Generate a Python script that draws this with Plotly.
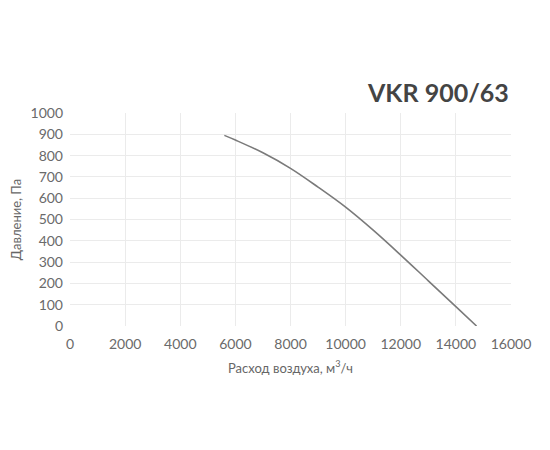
import plotly.graph_objects as go

flow = [5600, 6000, 7000, 8000, 9000, 10000, 11000, 12000, 13000, 14000, 14750]
pressure = [895, 873, 813, 740, 652, 558, 450, 333, 212, 91, 0]

x_ticks = [0, 2000, 4000, 6000, 8000, 10000, 12000, 14000, 16000]
y_ticks = [0, 100, 200, 300, 400, 500, 600, 700, 800, 900, 1000]

font_family = "Lato, Open Sans, sans-serif"

fig = go.Figure()
fig.add_trace(go.Scatter(x=flow, y=pressure, mode="lines",
                         line=dict(color="#7a7a7a", width=1.6, shape="spline", smoothing=1.0),
                         hoverinfo="skip", showlegend=False))

# page body adds an 8px offset; figure is sized so the plot area lands where the reference has it
fig.update_layout(
    width=542, height=442,
    margin=dict(l=62, r=39, t=105, b=124, autoexpand=False),
    paper_bgcolor="white", plot_bgcolor="white",
    font=dict(family=font_family, color="#666666", size=14),
    showlegend=False,
    annotations=[dict(text="<b>VKR 900/63</b>", x=1.0, y=1.0 + 21 / 213,
                      xref="paper", yref="paper",
                      showarrow=False, xanchor="right", yanchor="middle",
                      font=dict(size=25, color="#444444", family=font_family))],
)

fig.update_xaxes(range=[0, 16000], tickvals=x_ticks, ticktext=[str(v) for v in x_ticks],
                 showgrid=True, gridcolor="#ebebeb", gridwidth=1, zeroline=False,
                 showline=False, ticks="", ticklen=0, automargin=False,
                 ticklabelstandoff=8,
                 tickfont=dict(size=14, color="#6a6a6a"),
                 title=dict(text="Расход воздуха, м<sup>3</sup>/ч", font=dict(size=13, color="#666666"),
                            standoff=12))
fig.update_yaxes(range=[0, 1000], tickvals=y_ticks, ticktext=[str(v) for v in y_ticks],
                 showgrid=True, gridcolor="#ebebeb", gridwidth=1, zeroline=False,
                 showline=False, ticks="", ticklen=0, automargin=False,
                 ticklabelstandoff=6,
                 tickfont=dict(size=14, color="#6a6a6a"),
                 title=dict(text="Давление, Па", font=dict(size=13, color="#666666"),
                            standoff=8))

fig.write_html("out.html")
